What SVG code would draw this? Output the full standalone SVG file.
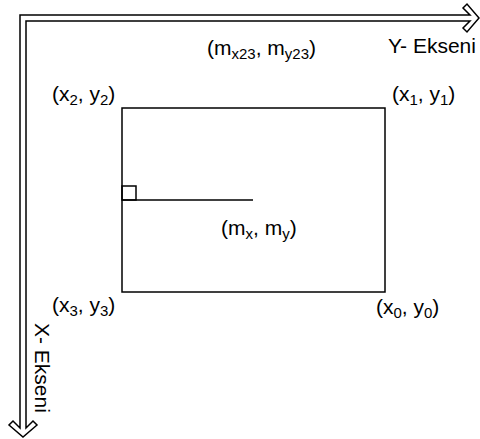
<svg xmlns="http://www.w3.org/2000/svg" width="480" height="439" viewBox="0 0 480 439">
<style>
.t{font-family:"Liberation Sans",Arial,sans-serif;font-size:21px;fill:#000}
.s{font-size:15px}
.ln{fill:none;stroke:#000;stroke-width:1.5}
</style>
<rect width="480" height="439" fill="#fff"/>
<g id="axes">
<path class="ln" d="M26,428 L26,21 L470,21 L463,28 L467,32 L479,18 L467,4 L463,8 L470,15 L20,15 L20,428 L13,421 L9,425 L23,437 L37,425 L33,421 Z" stroke-linejoin="miter"/>
</g>
<g id="rect">
<rect class="ln" x="122" y="108" width="263" height="184"/>
</g>
<g id="connectors">
<line class="ln" x1="122" y1="200" x2="253" y2="200"/>
<rect class="ln" x="122" y="186" width="14" height="14"/>
</g>
<g id="labels">
<text class="t" x="52" y="101">(x<tspan class="s" dy="4">2</tspan><tspan dy="-4">, y</tspan><tspan class="s" dy="4">2</tspan><tspan dy="-4">)</tspan></text>
<text class="t" x="392" y="101">(x<tspan class="s" dy="4">1</tspan><tspan dy="-4">, y</tspan><tspan class="s" dy="4">1</tspan><tspan dy="-4">)</tspan></text>
<text class="t" x="207" y="55">(m<tspan class="s" dy="4">x23</tspan><tspan dy="-4">, m</tspan><tspan class="s" dy="4">y23</tspan><tspan dy="-4">)</tspan></text>
<text class="t" x="388" y="53">Y- Ekseni</text>
<text class="t" x="221" y="235">(m<tspan class="s" dy="4">x</tspan><tspan dy="-4">, m</tspan><tspan class="s" dy="4">y</tspan><tspan dy="-4">)</tspan></text>
<text class="t" x="52" y="312">(x<tspan class="s" dy="4">3</tspan><tspan dy="-4">, y</tspan><tspan class="s" dy="4">3</tspan><tspan dy="-4">)</tspan></text>
<text class="t" x="376" y="314">(x<tspan class="s" dy="4">0</tspan><tspan dy="-4">, y</tspan><tspan class="s" dy="4">0</tspan><tspan dy="-4">)</tspan></text>
<text class="t" transform="translate(35,323) rotate(90)">X- Ekseni</text>
</g>
</svg>
